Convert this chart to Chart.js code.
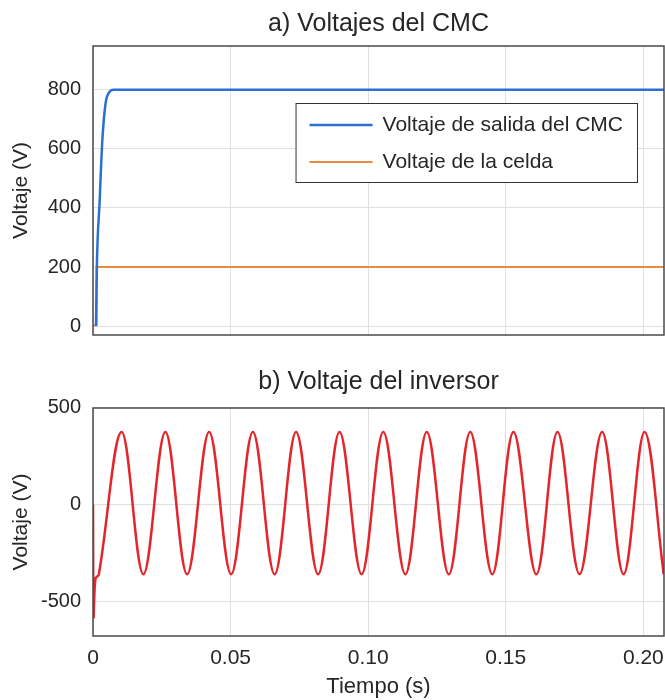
<!DOCTYPE html>
<html>
<head>
<meta charset="utf-8">
<script src="https://cdn.jsdelivr.net/npm/chart.js@4"></script>
<style>
  body { margin: 0; background: #fff; }
  #wrap { position: relative; width: 665px; height: 700px; }
  canvas { position: absolute; left: 0; }
  #cTop { top: 0; }
  #cBot { top: 345px; }
</style>
</head>
<body>
<div id="wrap">
  <canvas id="cTop" width="665" height="340"></canvas>
  <canvas id="cBot" width="665" height="355"></canvas>
</div>
<script>
// a) Voltajes del CMC
const tSalida = [0.0011, 0.0014, 0.0024, 0.0034, 0.0046, 0.0058, 0.0075, 0.0095, 0.2075];
const vSalida = [0, 200, 420, 630, 756, 790, 800, 800, 800];
const tCelda = [0, 0.0011, 0.0013, 0.2075];
const vCelda = [0, 5, 200, 200];

// b) Voltaje del inversor (arranque, luego picos y valles)
const tInv = [0, 0.0002, 0.0009, 0.0021,
  0.0104, 0.0183, 0.0263, 0.0342, 0.0422, 0.0502, 0.0581, 0.0660,
  0.0738, 0.0818, 0.0896, 0.0976, 0.1055, 0.1135, 0.1213, 0.1293,
  0.1371, 0.1451, 0.1528, 0.1611, 0.1688, 0.1768, 0.1850, 0.1928,
  0.2004, 0.2074];
const vInv = [0, -575, -380, -360,
  372, -358, 372, -358, 372, -358, 372, -358,
  372, -358, 372, -358, 372, -358, 372, -358,
  372, -358, 372, -358, 372, -358, 372, -358,
  372, -358];

const xTicks = [0, 0.05, 0.10, 0.15, 0.20];
const xTickLabels = ["0", "0.05", "0.10", "0.15", "0.20"];
const yTicksTop = [0, 200, 400, 600, 800];
const yTicksBot = [-500, 0, 500];

const FONT = "'Liberation Sans', Arial, sans-serif";
const TXT = "#262626";
const GRID = "#e0e0e0";

function pts(ts, vs) {
  return ts.map((t, i) => ({ x: t, y: vs[i] }));
}

// box around the plot area, like the original figure
const boxPlugin = {
  id: "box",
  afterDraw(chart) {
    const a = chart.chartArea, ctx = chart.ctx;
    ctx.save();
    ctx.strokeStyle = "#4a4a4a";
    ctx.lineWidth = 1.5;
    ctx.strokeRect(a.left, a.top, a.right - a.left, a.bottom - a.top);
    ctx.restore();
  }
};

// legend drawn inside the plot area
const innerLegend = {
  id: "innerLegend",
  afterDatasetsDraw(chart) {
    const a = chart.chartArea, ctx = chart.ctx;
    const sets = chart.data.datasets;
    ctx.save();
    ctx.font = "21px " + FONT;
    let tw = 0;
    sets.forEach((d) => { tw = Math.max(tw, ctx.measureText(d.label).width); });
    const w = 14 + 63 + 10 + tw + 14, h = 79;
    const x = a.right - 27 - w, y = a.top + 57;
    ctx.fillStyle = "#fff";
    ctx.fillRect(x, y, w, h);
    ctx.strokeStyle = "#333";
    ctx.lineWidth = 1;
    ctx.strokeRect(x + 0.5, y + 0.5, w, h);
    sets.forEach((d, i) => {
      const ry = y + 22 + i * 37;
      ctx.strokeStyle = d.borderColor;
      ctx.lineWidth = d.borderWidth;
      ctx.beginPath();
      ctx.moveTo(x + 14, ry);
      ctx.lineTo(x + 77, ry);
      ctx.stroke();
      ctx.fillStyle = TXT;
      ctx.textBaseline = "middle";
      ctx.fillText(d.label, x + 87, ry);
    });
    ctx.restore();
  }
};

function makeOptions(title, yMin, yMax, yTicks, showX, titlePad, xHeight) {
  return {
    responsive: false,
    animation: false,
    layout: { padding: { right: 1 } },
    plugins: {
      legend: { display: false },
      tooltip: { enabled: false },
      title: {
        display: true,
        text: title,
        fullSize: false,
        color: TXT,
        font: { family: FONT, size: 25, weight: "normal" },
        padding: titlePad
      }
    },
    elements: { point: { radius: 0 } },
    scales: {
      x: {
        type: "linear",
        min: 0,
        max: 0.2075,
        afterBuildTicks: (s) => { s.ticks = xTicks.map((v) => ({ value: v })); },
        afterFit: (s) => {
          s.height = xHeight;
          s.paddingLeft = 0;
          s.paddingRight = 0;
        },
        grid: { color: GRID, drawTicks: false },
        border: { display: false },
        ticks: {
          display: showX,
          padding: 10,
          color: TXT,
          font: { family: FONT, size: 21 },
          maxRotation: 0,
          callback: (v) => xTickLabels[xTicks.indexOf(v)]
        },
        title: {
          display: showX,
          text: "Tiempo (s)",
          color: TXT,
          font: { family: FONT, size: 22 },
          padding: { top: 0, bottom: 0 }
        }
      },
      y: {
        min: yMin,
        max: yMax,
        afterBuildTicks: (s) => { s.ticks = yTicks.map((v) => ({ value: v })); },
        afterFit: (s) => {
          s.width = 93;
          s.paddingTop = 0;
          s.paddingBottom = 0;
        },
        grid: { color: GRID, drawTicks: false },
        border: { display: false },
        ticks: {
          padding: 12,
          color: TXT,
          font: { family: FONT, size: 20 }
        },
        title: {
          display: true,
          text: "Voltaje (V)",
          color: TXT,
          font: { family: FONT, size: 21 },
          padding: { top: 9, bottom: 0 }
        }
      }
    }
  };
}

new Chart(document.getElementById("cTop"), {
  type: "line",
  data: {
    datasets: [
      {
        label: "Voltaje de salida del CMC",
        data: pts(tSalida, vSalida),
        borderColor: "#2b6fd1",
        borderWidth: 2.5,
        cubicInterpolationMode: "monotone"
      },
      {
        label: "Voltaje de la celda",
        data: pts(tCelda, vCelda),
        borderColor: "#e98a3e",
        borderWidth: 2
      }
    ]
  },
  options: makeOptions("a) Voltajes del CMC", -30, 948, yTicksTop, false,
    { top: 9, bottom: 7 }, 5),
  plugins: [boxPlugin, innerLegend]
});

new Chart(document.getElementById("cBot"), {
  type: "line",
  data: {
    datasets: [
      {
        label: "Voltaje del inversor",
        data: pts(tInv, vInv),
        borderColor: "#e3262c",
        borderWidth: 2.5,
        tension: 0.363
      }
    ]
  },
  options: makeOptions("b) Voltaje del inversor", -675, 495, yTicksBot, true,
    { top: 22, bottom: 11 }, 64),
  plugins: [boxPlugin]
});
</script>
</body>
</html>
